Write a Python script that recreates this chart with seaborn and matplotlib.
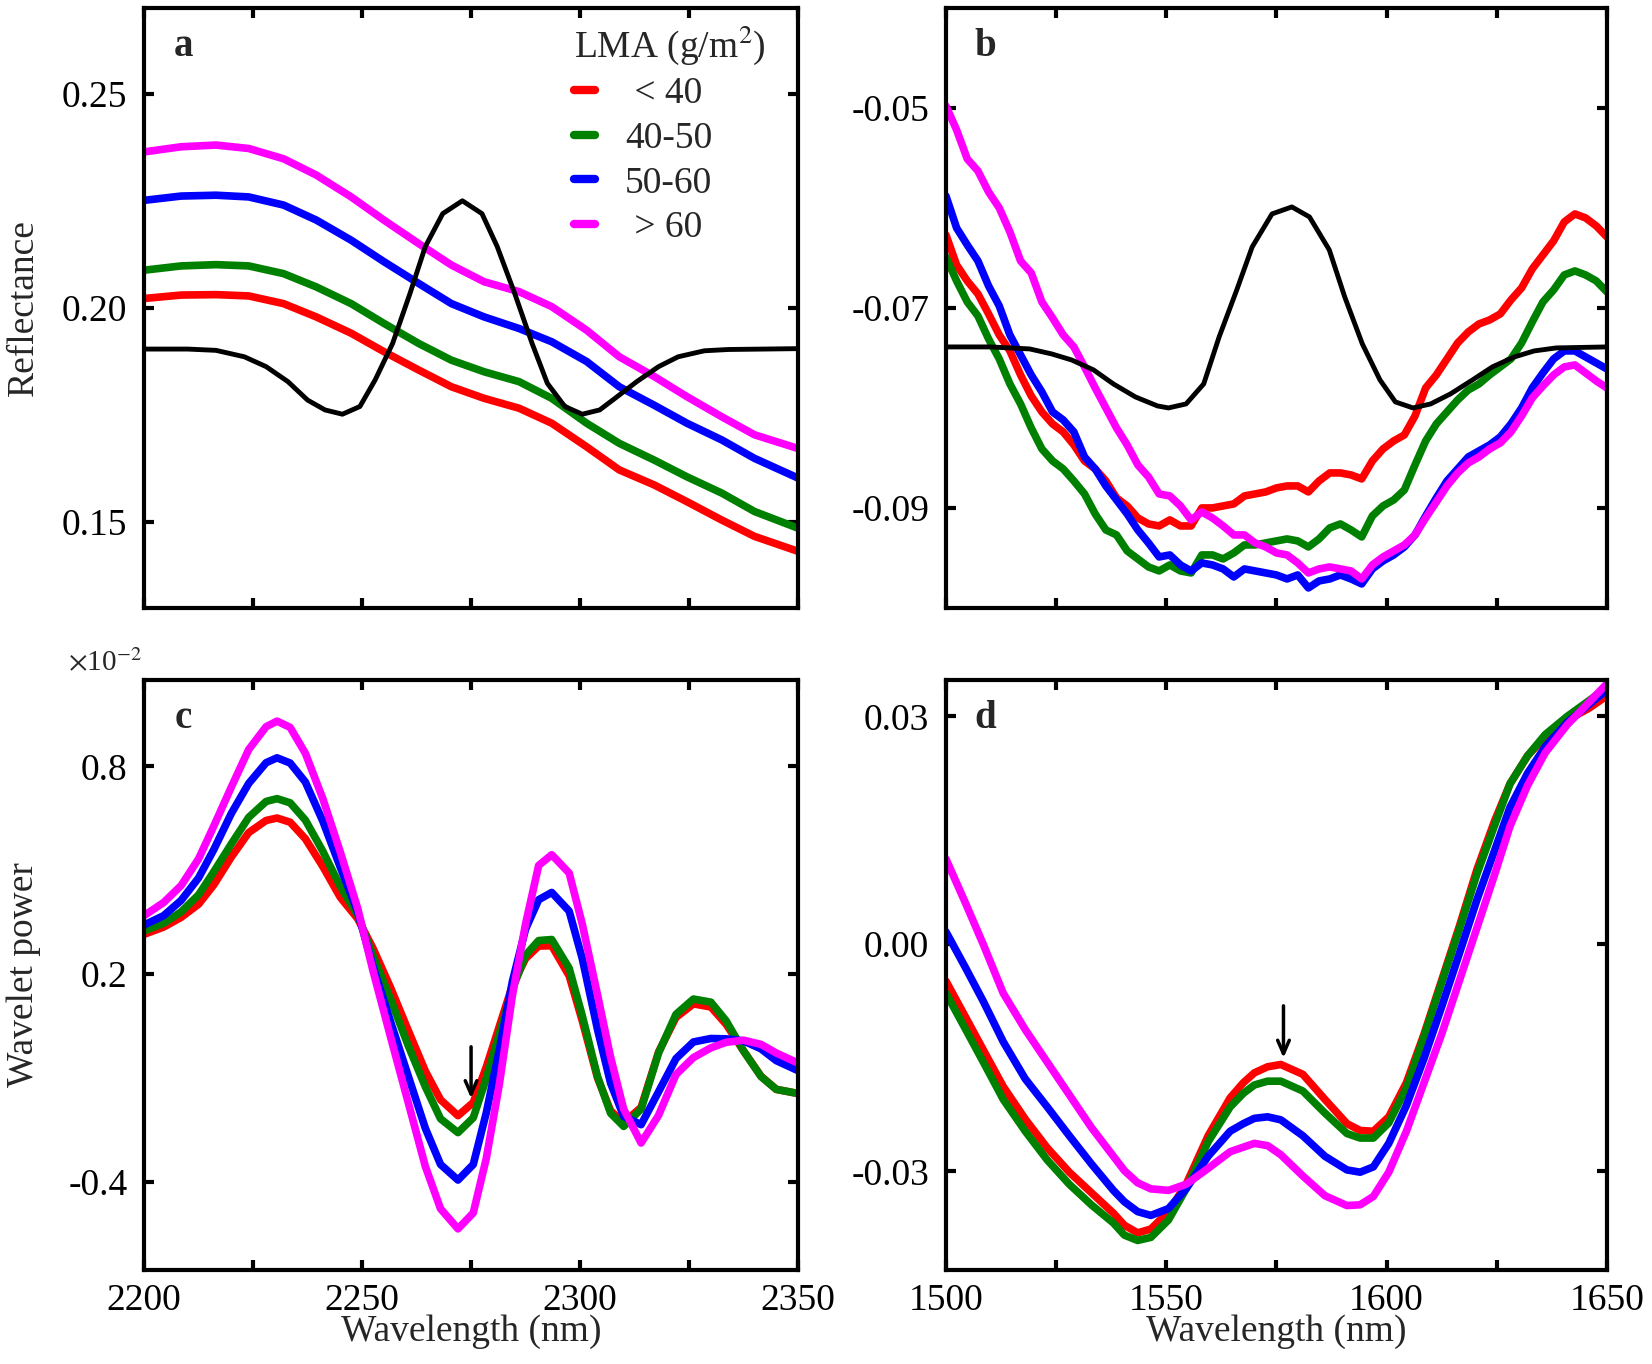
import numpy as np
import pandas as pd
import matplotlib
matplotlib.use("Agg")
import matplotlib.pyplot as plt
import seaborn as sns
from matplotlib.ticker import MultipleLocator, FormatStrFormatter, FixedLocator

# ---------------- data ----------------
labels = [" < 40", "40-50", "50-60", " > 60"]
colors = ["#FF0000", "#008000", "#0000FF", "#FF00FF"]

# panel a : reflectance 2200-2350 nm
wl_a = [2200, 2208.5, 2216.5, 2224, 2232, 2239.5, 2247.5, 2255, 2263, 2270.5, 2278, 2286, 2293.5, 2301.5,
        2309, 2317, 2324.5, 2332.5, 2340, 2350]
red_a = [0.2022, 0.2030, 0.2031, 0.2028, 0.2010, 0.1979, 0.1941, 0.1898, 0.1855, 0.1816, 0.1789, 0.1766,
         0.1731, 0.1676, 0.1622, 0.1587, 0.1548, 0.1505, 0.1467, 0.1432]
green_a = [0.2088, 0.2098, 0.2101, 0.2098, 0.2080, 0.2049, 0.2010, 0.1964, 0.1917, 0.1878, 0.1851, 0.1828,
           0.1789, 0.1731, 0.1684, 0.1645, 0.1606, 0.1568, 0.1525, 0.1486]
blue_a = [0.2251, 0.2261, 0.2263, 0.2259, 0.2240, 0.2205, 0.2158, 0.2108, 0.2057, 0.2010, 0.1979, 0.1952,
          0.1921, 0.1875, 0.1816, 0.1773, 0.1731, 0.1692, 0.1649, 0.1603]
magenta_a = [0.2364, 0.2376, 0.2380, 0.2372, 0.2348, 0.2310, 0.2259, 0.2205, 0.2150, 0.2100, 0.2061, 0.2038,
             0.2003, 0.1948, 0.1886, 0.1840, 0.1793, 0.1746, 0.1704, 0.1672]
wl_black_a = [2200, 2210, 2216.5, 2223, 2228, 2233, 2237.5, 2241.5, 2245.5, 2249.5, 2253, 2257, 2261, 2264.5,
              2268.5, 2273, 2277.5, 2281, 2285, 2289, 2292.5, 2296.5, 2300.5, 2304.5, 2308, 2313, 2318, 2322.5,
              2328.5, 2334, 2350]
black_a = [0.1904, 0.1904, 0.1901, 0.1886, 0.1863, 0.1828, 0.1785, 0.1762, 0.1752, 0.1770, 0.1832, 0.1917,
           0.2034, 0.2143, 0.2220, 0.2250, 0.2220, 0.2143, 0.2034, 0.1917, 0.1824, 0.1770, 0.1752, 0.1762,
           0.1789, 0.1828, 0.1863, 0.1886, 0.1900, 0.1903, 0.1905]

# panel b : 1500-1650 nm (63 samples)
wl_b = np.linspace(1500, 1650, 63)
red_b = [-0.0627, -0.0657, -0.0673, -0.0686, -0.0706, -0.0727, -0.0743, -0.0767, -0.0788, -0.0804,
         -0.0816, -0.0824, -0.0837, -0.0853, -0.0861, -0.0873, -0.0890, -0.0898, -0.0910, -0.0916,
         -0.0918, -0.0912, -0.0918, -0.0918, -0.0900, -0.0900, -0.0898, -0.0896, -0.0888, -0.0886,
         -0.0884, -0.0880, -0.0878, -0.0878, -0.0884, -0.0873, -0.0865, -0.0865, -0.0867, -0.0871,
         -0.0853, -0.0841, -0.0833, -0.0827, -0.0808, -0.0780, -0.0767, -0.0751, -0.0735, -0.0724,
         -0.0716, -0.0712, -0.0706, -0.0692, -0.0680, -0.0661, -0.0647, -0.0633, -0.0614, -0.0606,
         -0.0610, -0.0618, -0.0629]
green_b = [-0.0649, -0.0673, -0.0694, -0.0708, -0.0731, -0.0751, -0.0776, -0.0796, -0.0820, -0.0841,
           -0.0853, -0.0861, -0.0873, -0.0886, -0.0906, -0.0922, -0.0927, -0.0943, -0.0951, -0.0959,
           -0.0963, -0.0957, -0.0963, -0.0965, -0.0947, -0.0947, -0.0951, -0.0945, -0.0937, -0.0937,
           -0.0935, -0.0933, -0.0931, -0.0933, -0.0939, -0.0931, -0.0920, -0.0916, -0.0922, -0.0929,
           -0.0908, -0.0898, -0.0892, -0.0882, -0.0857, -0.0833, -0.0816, -0.0804, -0.0792, -0.0782,
           -0.0776, -0.0767, -0.0759, -0.0751, -0.0735, -0.0714, -0.0694, -0.0682, -0.0667, -0.0663,
           -0.0667, -0.0673, -0.0684]
blue_b = [-0.0588, -0.0620, -0.0637, -0.0653, -0.0678, -0.0698, -0.0727, -0.0747, -0.0767, -0.0784,
          -0.0804, -0.0812, -0.0824, -0.0849, -0.0861, -0.0878, -0.0892, -0.0906, -0.0922, -0.0935,
          -0.0949, -0.0947, -0.0957, -0.0963, -0.0955, -0.0957, -0.0961, -0.0969, -0.0961, -0.0963,
          -0.0965, -0.0967, -0.0971, -0.0967, -0.0980, -0.0973, -0.0971, -0.0967, -0.0971, -0.0976,
          -0.0961, -0.0953, -0.0947, -0.0939, -0.0927, -0.0908, -0.0890, -0.0873, -0.0861, -0.0849,
          -0.0843, -0.0837, -0.0829, -0.0816, -0.0800, -0.0780, -0.0765, -0.0751, -0.0743, -0.0743,
          -0.0749, -0.0755, -0.0761]
magenta_b = [-0.0498, -0.0522, -0.0551, -0.0563, -0.0584, -0.0600, -0.0624, -0.0653, -0.0665, -0.0694,
             -0.0710, -0.0727, -0.0739, -0.0759, -0.0780, -0.0800, -0.0820, -0.0837, -0.0857, -0.0869,
             -0.0886, -0.0888, -0.0898, -0.0912, -0.0904, -0.0910, -0.0918, -0.0927, -0.0927, -0.0935,
             -0.0939, -0.0945, -0.0947, -0.0955, -0.0965, -0.0961, -0.0959, -0.0961, -0.0963, -0.0971,
             -0.0957, -0.0949, -0.0943, -0.0937, -0.0927, -0.0910, -0.0894, -0.0878, -0.0865, -0.0855,
             -0.0849, -0.0841, -0.0835, -0.0824, -0.0808, -0.0790, -0.0778, -0.0767, -0.0759, -0.0757,
             -0.0765, -0.0773, -0.0780]
wl_black_b = [1500, 1510, 1519, 1524, 1528.5, 1533.5, 1538, 1543, 1548, 1550.5, 1554.5, 1558.5, 1562, 1566,
              1569.5, 1574, 1578.5, 1582.5, 1587, 1590.5, 1594.5, 1598.5, 1602, 1606, 1610, 1614.5, 1619.5,
              1624, 1629, 1633.5, 1638.5, 1650]
black_b = [-0.0739, -0.0739, -0.0741, -0.0746, -0.0752, -0.0762, -0.0776, -0.0789, -0.0798, -0.0800, -0.0796,
           -0.0776, -0.0729, -0.0682, -0.0639, -0.0606, -0.0599, -0.0609, -0.0642, -0.0689, -0.0736, -0.0772,
           -0.0794, -0.0800, -0.0796, -0.0786, -0.0772, -0.0759, -0.0749, -0.0743, -0.0740, -0.0739]

# panel c : wavelet power (x 1e-2), 2200-2350 nm
wl_c = [2200, 2204.5, 2208.5, 2212.5, 2216, 2220, 2224, 2228, 2230.5, 2233.5, 2237, 2241, 2245, 2249, 2252.5,
        2256.5, 2260.5, 2264.5, 2268, 2272, 2275.5, 2278.5, 2281.5, 2284.5, 2287.5, 2290.5, 2293.5, 2297.5,
        2300.5, 2304, 2307, 2310, 2314, 2318, 2322, 2326, 2330, 2333.5, 2337.5, 2341.5, 2345, 2350]
red_c = [0.315, 0.336, 0.364, 0.402, 0.458, 0.538, 0.609, 0.644, 0.651, 0.639, 0.591, 0.511, 0.422, 0.360,
         0.275, 0.162, 0.040, -0.080, -0.163, -0.209, -0.171, -0.068, 0.050, 0.168, 0.245, 0.281, 0.282, 0.195,
         0.065, -0.100, -0.195, -0.229, -0.185, -0.025, 0.075, 0.114, 0.105, 0.055, -0.022, -0.095, -0.133,
         -0.145]
green_c = [0.325, 0.347, 0.380, 0.429, 0.496, 0.576, 0.653, 0.699, 0.707, 0.695, 0.645, 0.555, 0.454, 0.370,
           0.253, 0.129, -0.004, -0.125, -0.218, -0.258, -0.215, -0.101, 0.028, 0.157, 0.255, 0.297, 0.300,
           0.217, 0.080, -0.096, -0.202, -0.240, -0.190, -0.028, 0.084, 0.128, 0.119, 0.065, -0.022, -0.096,
           -0.133, -0.145]
blue_c = [0.342, 0.369, 0.413, 0.478, 0.560, 0.664, 0.751, 0.811, 0.825, 0.810, 0.755, 0.642, 0.509, 0.380,
          0.222, 0.064, -0.091, -0.245, -0.350, -0.395, -0.350, -0.200, -0.018, 0.180, 0.330, 0.415, 0.436,
          0.382, 0.245, 0.040, -0.115, -0.211, -0.235, -0.140, -0.044, 0.004, 0.014, 0.013, 0.007, -0.016,
          -0.050, -0.079]
magenta_c = [0.369, 0.407, 0.456, 0.533, 0.628, 0.740, 0.849, 0.915, 0.931, 0.913, 0.838, 0.707, 0.553, 0.390,
             0.210, 0.020, -0.167, -0.355, -0.478, -0.536, -0.490, -0.332, -0.117, 0.140, 0.345, 0.514, 0.545,
             0.492, 0.345, 0.140, -0.040, -0.190, -0.288, -0.208, -0.090, -0.041, -0.013, 0.003, 0.009, -0.003,
             -0.028, -0.057]

# panel d : wavelet power, 1500-1650 nm
wl_d = [1500, 1504.5, 1508.5, 1513, 1518, 1523, 1528, 1533, 1538, 1540.5, 1543.5, 1546.5, 1550.5, 1554.5,
        1559.5, 1564.5, 1567.5, 1570, 1573, 1576, 1581, 1586, 1591, 1594, 1597, 1600.5, 1604.5, 1608.5,
        1612.5, 1616.5, 1620.5, 1624.5, 1628, 1632, 1636, 1641, 1646, 1650]
red_d = [-0.0049, -0.0097, -0.0140, -0.0188, -0.0231, -0.0269, -0.0301, -0.0328, -0.0355, -0.0371, -0.0381,
         -0.0376, -0.0353, -0.0317, -0.0253, -0.0203, -0.0183, -0.0170, -0.0162, -0.0159, -0.0172, -0.0205,
         -0.0237, -0.0246, -0.0247, -0.0228, -0.0183, -0.0119, -0.0048, 0.0023, 0.0098, 0.0162, 0.0211,
         0.0248, 0.0273, 0.0295, 0.0311, 0.0327]
green_d = [-0.0065, -0.0113, -0.0156, -0.0205, -0.0247, -0.0285, -0.0317, -0.0344, -0.0368, -0.0384, -0.0391,
           -0.0387, -0.0364, -0.0323, -0.0261, -0.0215, -0.0197, -0.0186, -0.0181, -0.0181, -0.0194, -0.0223,
           -0.0250, -0.0256, -0.0256, -0.0236, -0.0190, -0.0122, -0.0051, 0.0019, 0.0092, 0.0156, 0.0211,
           0.0248, 0.0276, 0.0300, 0.0321, 0.0338]
blue_d = [0.0016, -0.0032, -0.0076, -0.0129, -0.0178, -0.0215, -0.0253, -0.0290, -0.0325, -0.0340, -0.0353,
          -0.0358, -0.0349, -0.0323, -0.0280, -0.0247, -0.0237, -0.0230, -0.0228, -0.0232, -0.0253, -0.0280,
          -0.0298, -0.0301, -0.0294, -0.0263, -0.0213, -0.0151, -0.0083, -0.0013, 0.0058, 0.0123, 0.0180,
          0.0225, 0.0260, 0.0292, 0.0316, 0.0335]
magenta_d = [0.0112, 0.0053, -0.0001, -0.0065, -0.0113, -0.0156, -0.0199, -0.0242, -0.0280, -0.0299, -0.0315,
             -0.0323, -0.0325, -0.0317, -0.0296, -0.0274, -0.0268, -0.0263, -0.0266, -0.0278, -0.0306, -0.0332,
             -0.0345, -0.0344, -0.0333, -0.0301, -0.0247, -0.0183, -0.0119, -0.0049, 0.0021, 0.0091, 0.0155,
             0.0209, 0.0252, 0.0289, 0.0319, 0.0343]

# ---------------- style ----------------
sns.set_theme(style="ticks")
plt.rcParams["font.family"] = ["Liberation Serif", "DejaVu Serif"]
plt.rcParams["mathtext.fontset"] = "stix"
plt.rcParams["axes.unicode_minus"] = False

FS = 27
LW = 5.5
BLW = 3.5

fig = plt.figure(figsize=(16.52, 13.64), dpi=100)
ax_a = fig.add_axes([0.0872, 0.5543, 0.3959, 0.4399])
ax_b = fig.add_axes([0.5726, 0.5543, 0.4001, 0.4399])
ax_c = fig.add_axes([0.0872, 0.0689, 0.3959, 0.4326])
ax_d = fig.add_axes([0.5726, 0.0689, 0.4001, 0.4326])


def style(ax, xlim, show_x):
    ax.set_xlim(*xlim)
    ax.xaxis.set_major_locator(MultipleLocator(50))
    ax.xaxis.set_minor_locator(MultipleLocator(25))
    ax.tick_params(which="both", direction="in", top=True, right=True, length=7, width=3,
                   labelsize=FS, color="black", labelcolor="black")
    ax.tick_params(axis="y", pad=12)
    ax.tick_params(axis="x", pad=10)
    if not show_x:
        ax.tick_params(axis="x", labelbottom=False)
    for s in ax.spines.values():
        s.set_linewidth(3)
        s.set_color("black")
    ax.set_xlabel("")
    ax.set_ylabel("")


def draw(ax, x, series, with_label=False):
    for vals, c, lab in zip(series, colors, labels):
        sns.lineplot(x=x, y=vals, ax=ax, color=c, linewidth=LW,
                     label=lab if with_label else None, legend=False)


arrow_style = dict(arrowstyle="->,head_length=0.8,head_width=0.35", lw=2.5, color="black")

# panel a
draw(ax_a, wl_a, [red_a, green_a, blue_a, magenta_a], with_label=True)
sns.lineplot(x=wl_black_a, y=black_a, ax=ax_a, color="black", linewidth=BLW, legend=False)
style(ax_a, (2200, 2350), False)
ax_a.set_ylim(0.13, 0.27)
ax_a.yaxis.set_major_locator(FixedLocator([0.15, 0.20, 0.25]))
ax_a.yaxis.set_major_formatter(FormatStrFormatter("%.2f"))
ax_a.set_ylabel("Reflectance", fontsize=FS)
ax_a.yaxis.set_label_coords(-0.158, 0.5)
handles, labs = ax_a.get_legend_handles_labels()
leg = ax_a.legend(handles[:4], labs[:4], title="LMA (g/m$^2$)", loc="upper left",
                  bbox_to_anchor=(0.658, 0.975), frameon=False, borderpad=0.0, borderaxespad=0.0,
                  fontsize=FS, title_fontsize=FS, handlelength=0.56, handletextpad=0.79,
                  labelspacing=0.27, alignment="left")
for h in leg.legend_handles:
    h.set_linewidth(6)

# panel b
draw(ax_b, wl_b, [red_b, green_b, blue_b, magenta_b])
sns.lineplot(x=wl_black_b, y=black_b, ax=ax_b, color="black", linewidth=BLW, legend=False)
style(ax_b, (1500, 1650), False)
ax_b.set_ylim(-0.10, -0.04)
ax_b.yaxis.set_major_locator(FixedLocator([-0.09, -0.07, -0.05]))
ax_b.yaxis.set_major_formatter(FormatStrFormatter("%.2f"))

# panel c
draw(ax_c, wl_c, [red_c, green_c, blue_c, magenta_c])
style(ax_c, (2200, 2350), True)
ax_c.set_ylim(-0.655, 1.05)
ax_c.yaxis.set_major_locator(FixedLocator([-0.4, 0.2, 0.8]))
ax_c.yaxis.set_major_formatter(FormatStrFormatter("%.1f"))
ax_c.set_ylabel("Wavelet power", fontsize=FS)
ax_c.yaxis.set_label_coords(-0.158, 0.5)
ax_c.set_xlabel("Wavelength (nm)", fontsize=FS)
ax_c.xaxis.set_label_coords(0.5, -0.075)
ax_c.text(-0.003, 1.028, r"$\times$10$^{-2}$", transform=ax_c.transAxes, ha="right", va="center",
          fontsize=21)
ax_c.annotate("", xy=(2275, -0.167), xytext=(2275, -0.002), arrowprops=arrow_style)

# panel d
draw(ax_d, wl_d, [red_d, green_d, blue_d, magenta_d])
style(ax_d, (1500, 1650), True)
ax_d.set_ylim(-0.0430, 0.0348)
ax_d.yaxis.set_major_locator(FixedLocator([-0.03, 0.0, 0.03]))
ax_d.yaxis.set_major_formatter(FormatStrFormatter("%.2f"))
ax_d.set_xlabel("Wavelength (nm)", fontsize=FS)
ax_d.xaxis.set_label_coords(0.5, -0.075)
ax_d.annotate("", xy=(1576.6, -0.0154), xytext=(1576.6, -0.0078), arrowprops=arrow_style)

# panel letters
for ax, letter in zip([ax_a, ax_b, ax_c, ax_d], ["a", "b", "c", "d"]):
    ax.text(0.06, 0.935, letter, transform=ax.transAxes, ha="center", va="center",
            fontsize=28, fontweight="bold")

fig.savefig("out.png", dpi=100)
